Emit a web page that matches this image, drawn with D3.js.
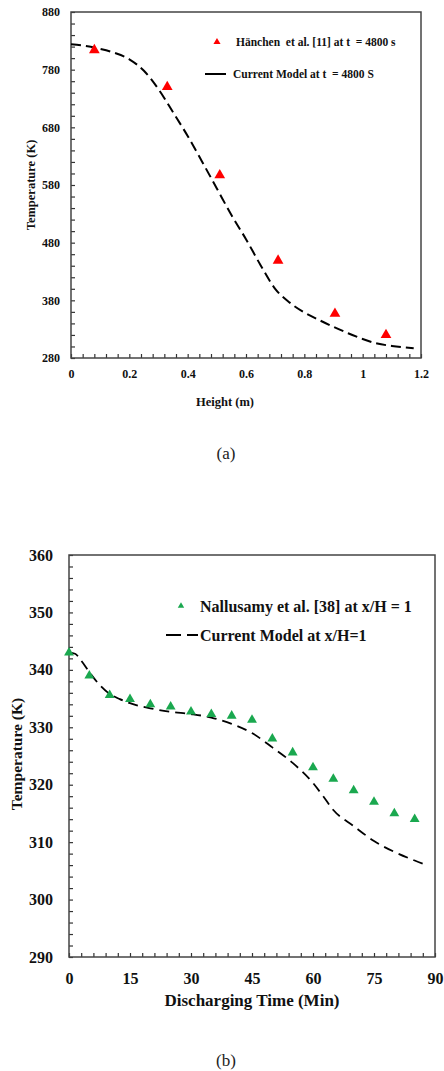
<!DOCTYPE html>
<html><head><meta charset="utf-8">
<script src="https://cdn.jsdelivr.net/npm/d3@7"></script>
<style>body{margin:0;background:#fff}svg{display:block}text{font-family:"Liberation Serif","Times New Roman",serif;white-space:pre}</style>
</head><body>
<svg id="c" width="444" height="1071"></svg>
<script>
// ---- Chart (a) data ----
const aExpX = [0.08, 0.33, 0.51, 0.71, 0.905, 1.08];
const aExpY = [814, 750, 597, 449, 357, 320];
const aModX = [0, 0.05, 0.1, 0.15, 0.2, 0.25, 0.3, 0.35, 0.4, 0.45, 0.5, 0.55, 0.6, 0.65, 0.7, 0.75, 0.8, 0.85, 0.9, 0.95, 1.0, 1.05, 1.1, 1.175];
const aModY = [824, 821, 816, 809, 798, 778, 746, 706, 665, 620, 574, 528, 486, 441, 400, 376, 359, 346, 334, 323, 313, 305, 301, 297];
const aXTicks = [0, 0.2, 0.4, 0.6, 0.8, 1, 1.2];
const aYTicks = [280, 380, 480, 580, 680, 780, 880];
// ---- Chart (b) data ----
const bExpX = [0, 5, 10, 15, 20, 25, 30, 35, 40, 45, 50, 55, 60, 65, 70, 75, 80, 85];
const bExpY = [343, 339, 335.6, 334.9, 334, 333.6, 332.7, 332.3, 332, 331.3, 328, 325.6, 323, 321, 319, 317, 315, 314];
const bModX = [0, 1.5, 3, 5, 7.5, 10, 12.5, 15, 20, 25, 30, 35, 40, 45, 50, 55, 60, 62.5, 65, 70, 75, 80, 85, 88];
const bModY = [343, 342.8, 341.6, 339.6, 337.4, 335.8, 334.9, 334.2, 333.3, 332.7, 332.3, 331.7, 330.6, 329, 326.5, 323.8, 320.3, 318, 315.6, 312.8, 310.2, 308.3, 306.8, 306];
const bXTicks = [0, 15, 30, 45, 60, 75, 90];
const bYTicks = [290, 300, 310, 320, 330, 340, 350, 360];

const svg = d3.select("#c");
const FONT = '"Liberation Serif","Times New Roman",serif';

function panel(o) {
  const g = svg.append("g");
  const x = d3.scaleLinear().domain(o.xd).range([o.l, o.r]);
  const y = d3.scaleLinear().domain(o.yd).range([o.b, o.t]);
  const xMinor = d3.range(o.xd[0], o.xd[1] + 1e-9, o.xMinor);
  const yMinor = d3.range(o.yd[0], o.yd[1] + 1e-9, o.yMinor);
  g.append("g").attr("transform", `translate(0,${o.b})`)
    .call(d3.axisBottom(x).tickValues(xMinor).tickSize(-4).tickFormat(""))
    .call(s => { s.select(".domain").remove(); s.selectAll("line").attr("stroke", "#333").attr("stroke-width", 1.2); });
  g.append("g").attr("transform", `translate(${o.l},0)`)
    .call(d3.axisLeft(y).tickValues(yMinor).tickSize(-4).tickFormat(""))
    .call(s => { s.select(".domain").remove(); s.selectAll("line").attr("stroke", "#333").attr("stroke-width", 1.2); });
  g.append("g").attr("transform", `translate(0,${o.b})`)
    .call(d3.axisBottom(x).tickValues(o.xTicks).tickSize(0).tickPadding(o.xPad).tickFormat(d => d3.format("")(d)))
    .call(s => { s.attr("font-family", FONT); s.select(".domain").remove(); s.selectAll("text").attr("font-size", o.fs).attr("font-weight", "bold").attr("fill", "#111"); });
  g.append("g").attr("transform", `translate(${o.l},0)`)
    .call(d3.axisLeft(y).tickValues(o.yTicks).tickSize(0).tickPadding(o.yPad))
    .call(s => { s.attr("font-family", FONT); s.select(".domain").remove(); s.selectAll("text").attr("font-size", o.fs).attr("font-weight", "bold").attr("fill", "#111"); });
  g.append("rect").attr("x", o.l).attr("y", o.t).attr("width", o.r - o.l).attr("height", o.b - o.t)
    .attr("fill", "none").attr("stroke", "#444").attr("stroke-width", 1.5);
  const line = d3.line().x(d => x(d[0])).y(d => y(d[1])).curve(d3.curveMonotoneX);
  g.append("path").datum(o.modX.map((v, i) => [v, o.modY[i]]))
    .attr("d", line).attr("fill", "none").attr("stroke", "#000")
    .attr("stroke-width", o.lw).attr("stroke-dasharray", o.dash);
  const tri = d3.symbol().type(d3.symbolTriangle).size(o.ms);
  g.selectAll(".pt").data(o.expX.map((v, i) => [v, o.expY[i]])).join("path")
    .attr("d", tri).attr("transform", d => `translate(${x(d[0])},${y(d[1])})`).attr("fill", o.col);
  g.append("text").attr("x", o.xtX).attr("y", o.xtY).attr("text-anchor", "middle")
    .attr("font-size", o.xtFs).attr("font-weight", "bold").attr("fill", "#111").text(o.xTitle);
  g.append("text").attr("transform", `translate(${o.ytX},${o.ytY}) rotate(-90)`).attr("text-anchor", "middle")
    .attr("font-size", o.ytFs).attr("font-weight", "bold").attr("fill", "#111").text(o.yTitle);
  g.append("path").attr("d", d3.symbol().type(d3.symbolTriangle).size(o.lms)())
    .attr("transform", `translate(${o.lg.tx},${o.lg.ty})`).attr("fill", o.col);
  g.append("text").attr("x", o.lg.textX).attr("y", o.lg.ty).attr("dy", "0.35em")
    .attr("font-size", o.lg.fs).attr("font-weight", "bold").attr("fill", "#111").text(o.lg.t1);
  g.append("line").attr("x1", o.lg.lx1).attr("x2", o.lg.lx2).attr("y1", o.lg.ly).attr("y2", o.lg.ly)
    .attr("stroke", "#000").attr("stroke-width", o.lw).attr("stroke-dasharray", o.lg.ldash);
  g.append("text").attr("x", o.lg.textX2).attr("y", o.lg.ly).attr("dy", "0.35em")
    .attr("font-size", o.lg.fs).attr("font-weight", "bold").attr("fill", "#111").text(o.lg.t2);
  g.append("text").attr("x", o.capX).attr("y", o.capY).attr("text-anchor", "middle")
    .attr("font-size", 17).attr("fill", "#222").text(o.cap);
}

panel({
  xd: [0, 1.2], yd: [280, 880], l: 71, r: 421, t: 12, b: 358,
  xMinor: 0.04, yMinor: 20, xTicks: aXTicks, yTicks: aYTicks, fs: 12, xPad: 11, yPad: 11,
  modX: aModX, modY: aModY, expX: aExpX, expY: aExpY, col: "#ff0000",
  lw: 2, dash: "10,5", ms: 50, lms: 22,
  xTitle: "Height (m)", xtX: 225, xtY: 406, xtFs: 12.5,
  yTitle: "Temperature (K)", ytX: 35, ytY: 185, ytFs: 12.5,
  lg: { tx: 217, ty: 42, textX: 236, fs: 11.5, t1: "Hänchen  et al. [11] at t  = 4800 s",
        lx1: 205, lx2: 226, ly: 74, ldash: "none", textX2: 233, t2: "Current Model at t  = 4800 S" },
  cap: "(a)", capX: 226, capY: 459
});

panel({
  xd: [0, 90], yd: [290, 360], l: 69, r: 435, t: 555, b: 957,
  xMinor: 3, yMinor: 2, xTicks: bXTicks, yTicks: bYTicks, fs: 16, xPad: 16, yPad: 16,
  modX: bModX, modY: bModY, expX: bExpX, expY: bExpY, col: "#1aa84f",
  lw: 1.8, dash: "10,6", ms: 42, lms: 18,
  xTitle: "Discharging Time (Min)", xtX: 252, xtY: 1006, xtFs: 17,
  yTitle: "Temperature (K)", ytX: 22, ytY: 754, ytFs: 15.5,
  lg: { tx: 181, ty: 606, textX: 200, fs: 16, t1: "Nallusamy et al. [38] at x/H = 1",
        lx1: 166, lx2: 198, ly: 635, ldash: "15,6,4,0", textX2: 200, t2: "Current Model at x/H=1" },
  cap: "(b)", capX: 226, capY: 1066
});
</script>
</body></html>
